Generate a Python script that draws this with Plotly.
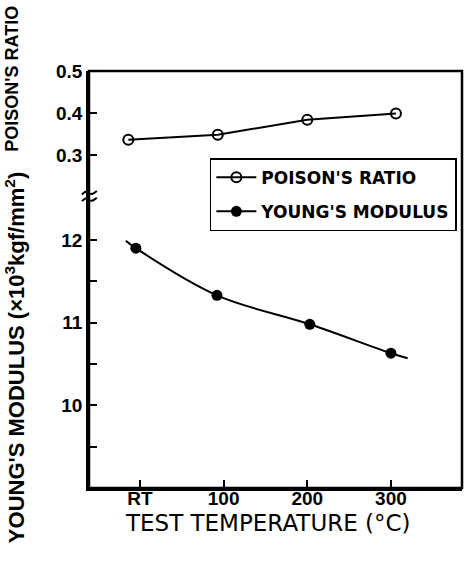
import plotly.graph_objects as go

# ---- data ----
tick_pos = [0, 100, 200, 300]
tick_text = ["RT", "100", "200", "300"]

poisson_temp = [-14, 93, 200, 306]
poisson_ratio = [0.336, 0.348, 0.384, 0.399]

young_temp = [-5, 92, 203, 300]
young_mod = [11.90, 11.33, 10.98, 10.63]

# fitted curve drawn through the points (extends a bit beyond them)
young_fit_temp = [-17, -5, 92, 203, 300, 320]
young_fit_mod = [11.99, 11.90, 11.33, 10.98, 10.63, 10.57]

poisson_ticks = [0.3, 0.4, 0.5]
poisson_ticktext = ["0.3", "0.4", "0.5"]
young_ticks = [9.5, 10, 10.5, 11, 11.5, 12]
young_ticktext = ["", "10", "", "11", "", "12"]

SPLIT = 0.698
FONT = "Liberation Sans"

fig = go.Figure()

fig.add_trace(go.Scatter(
    x=poisson_temp, y=poisson_ratio, yaxis="y2", mode="lines+markers",
    name="POISON'S RATIO", legendgroup="a",
    line=dict(color="black", width=2),
    marker=dict(symbol="circle-open", size=10, color="black", line=dict(width=2)),
))
fig.add_trace(go.Scatter(
    x=young_fit_temp, y=young_fit_mod, mode="lines", showlegend=False,
    line=dict(color="black", width=2, shape="spline", smoothing=1.0),
))
fig.add_trace(go.Scatter(
    x=young_temp, y=young_mod, mode="markers", showlegend=False,
    marker=dict(symbol="circle", size=11, color="black"),
))
# legend entry for Young's modulus (line + filled marker)
fig.add_trace(go.Scatter(
    x=[None], y=[None], mode="lines+markers",
    name="YOUNG'S MODULUS", legendgroup="b",
    line=dict(color="black", width=2),
    marker=dict(symbol="circle", size=11, color="black"),
))

axis_common = dict(
    showline=True, linecolor="black", linewidth=2.5,
    ticks="inside", ticklen=8, tickwidth=2, tickcolor="black",
    showgrid=False, zeroline=False,
    tickfont=dict(family=FONT, size=19, color="black", weight="bold"),
)

fig.update_layout(
    width=467, height=562,
    margin=dict(l=89, r=5, t=71, b=74),
    paper_bgcolor="white", plot_bgcolor="white",
    showlegend=True,
    xaxis=dict(range=[-61, 385], tickvals=tick_pos, ticktext=tick_text,
               anchor="y", ticklabelstandoff=-9, **axis_common),
    yaxis=dict(domain=[0, SPLIT], range=[9.0, 12.52], tickvals=young_ticks,
               ticktext=young_ticktext, anchor="x", **axis_common),
    yaxis2=dict(domain=[SPLIT, 1], range=[0.2, 0.5], tickvals=poisson_ticks,
                ticktext=poisson_ticktext, anchor="x", **axis_common),
    legend=dict(
        x=0.324, y=0.791, xanchor="left", yanchor="top",
        bgcolor="white", bordercolor="black", borderwidth=1.5,
        font=dict(family="DejaVu Sans", size=17, color="black", weight="bold"),
        traceorder="grouped", tracegroupgap=9, itemwidth=40,
    ),
    shapes=[
        dict(type="rect", xref="paper", yref="paper", x0=0, x1=1, y0=0, y1=1,
             line=dict(color="black", width=2.5)),
        dict(type="path", xref="paper", yref="paper",
             path="M -0.019,0.704 Q -0.005,0.716 0.0,0.708 Q 0.006,0.700 0.021,0.712",
             line=dict(color="black", width=2)),
        dict(type="path", xref="paper", yref="paper",
             path="M -0.019,0.688 Q -0.005,0.700 0.0,0.692 Q 0.006,0.684 0.021,0.696",
             line=dict(color="black", width=2)),
    ],
    annotations=[
        dict(text="POISON'S RATIO", xref="paper", yref="paper",
             x=-0.207, y=(488 - 79) / 417, textangle=-90, showarrow=False,
             xanchor="center", yanchor="middle",
             font=dict(family=FONT, size=18, color="black", weight="bold")),
        dict(text="YOUNG'S MODULUS (×10<sup>3</sup>kgf/mm<sup>2</sup>)",
             xref="paper", yref="paper",
             x=-0.198, y=(488 - 358) / 417, textangle=-90, showarrow=False,
             xanchor="center", yanchor="middle",
             font=dict(family=FONT, size=22, color="black", weight="bold")),
        dict(text="TEST TEMPERATURE (°C)", xref="paper", yref="paper",
             x=(268 - 89) / 373, y=(488 - 523) / 417, showarrow=False,
             xanchor="center", yanchor="middle",
             font=dict(family="DejaVu Sans", size=23, color="black")),
    ],
)

fig.write_html("out.html")
